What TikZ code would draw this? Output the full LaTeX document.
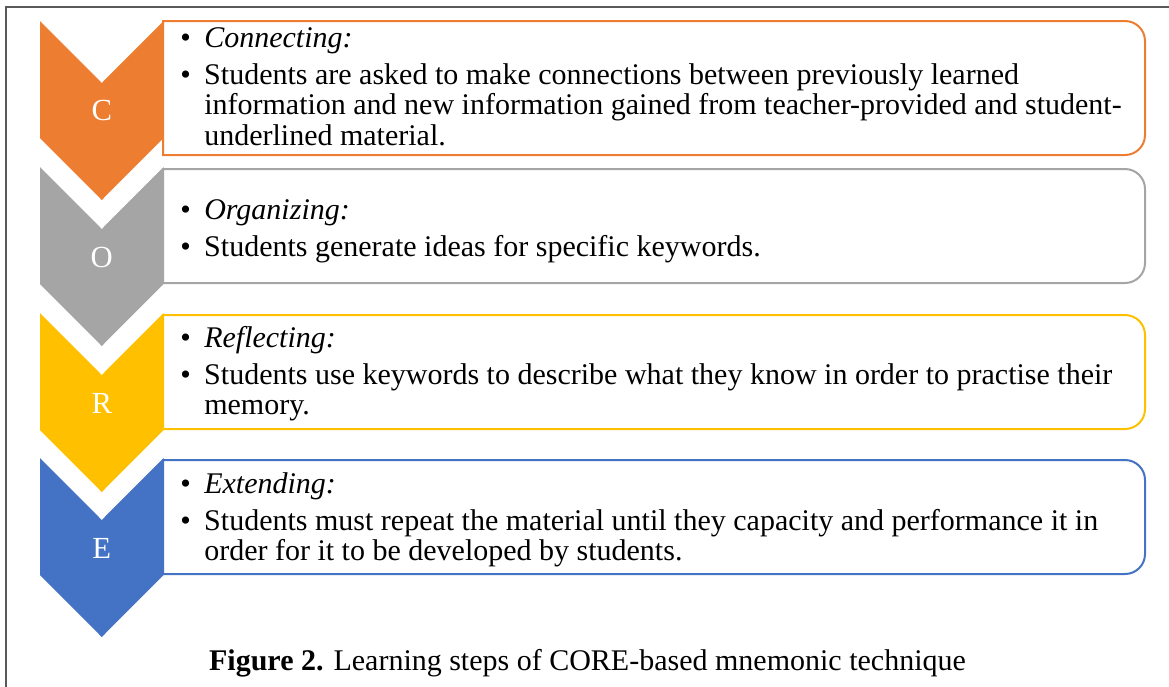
\documentclass[tikz,border=0pt]{standalone}
\usepackage{fontspec}
\setmainfont{Liberation Serif}
\usepackage{xcolor}
\usepackage{tikz}
\usetikzlibrary{positioning}

\definecolor{coreOrange}{RGB}{237,125,49}
\definecolor{coreGray}{RGB}{165,165,165}
\definecolor{coreYellow}{RGB}{255,192,0}
\definecolor{coreBlue}{RGB}{68,114,196}
\definecolor{frameGray}{RGB}{89,89,89}

\newcommand{\bitem}[1]{\par\addvspace{4.5pt}\noindent\makebox[18pt][l]{\textbullet}\parbox[t]{700pt}{#1}}
\newcommand{\cardtext}[1]{\begin{minipage}[t]{720pt}#1\end{minipage}}

\begin{document}
\begin{tikzpicture}[x=0.75pt,y=0.75pt,yscale=-1,xscale=1,
  card/.style={line width=1.5pt, fill=white},
  letter/.style={text=white, inner sep=0pt, font=\fontsize{23}{24}\selectfont},
  itemtext/.style={anchor=base west, inner sep=0pt, font=\fontsize{22.5}{23}\selectfont}]
  \useasboundingbox (0,0) rectangle (1169,686);

  %Shape: Frame
  \draw [color=frameGray, line width=1.5pt] (6,690) -- (6,7) -- (1172,7) ;

  %Shape: Chevron
  \draw [draw=none, fill=coreOrange] (40,21) -- (101.75,83) -- (163.5,21) -- (163.5,138) -- (101.75,200) -- (40,138) -- cycle ;
  %Shape: Chevron
  \draw [draw=none, fill=coreGray] (40,167) -- (101.75,229) -- (163.5,167) -- (163.5,284) -- (101.75,346) -- (40,284) -- cycle ;
  %Shape: Chevron
  \draw [draw=none, fill=coreYellow] (40,313) -- (101.75,375) -- (163.5,313) -- (163.5,430) -- (101.75,492) -- (40,430) -- cycle ;
  %Shape: Chevron
  \draw [draw=none, fill=coreBlue] (40,458) -- (101.75,520) -- (163.5,458) -- (163.5,575) -- (101.75,637) -- (40,575) -- cycle ;

  %Shape: Round Same Side Corner Rectangle
  \draw [card, draw=coreOrange] (163,21) -- (1125,21) .. controls (1136.05,21) and (1145,29.95) .. (1145,41) -- (1145,135) .. controls (1145,146.05) and (1136.05,155) .. (1125,155) -- (163,155) -- cycle ;
  %Shape: Round Same Side Corner Rectangle
  \draw [card, draw=coreGray] (163,169) -- (1125,169) .. controls (1136.05,169) and (1145,177.95) .. (1145,189) -- (1145,263) .. controls (1145,274.05) and (1136.05,283) .. (1125,283) -- (163,283) -- cycle ;
  %Shape: Round Same Side Corner Rectangle
  \draw [card, draw=coreYellow] (163,315) -- (1125,315) .. controls (1136.05,315) and (1145,323.95) .. (1145,335) -- (1145,409) .. controls (1145,420.05) and (1136.05,429) .. (1125,429) -- (163,429) -- cycle ;
  %Shape: Round Same Side Corner Rectangle
  \draw [card, draw=coreBlue] (163,460) -- (1125,460) .. controls (1136.05,460) and (1145,468.95) .. (1145,480) -- (1145,554) .. controls (1145,565.05) and (1136.05,574) .. (1125,574) -- (163,574) -- cycle ;

  % Text Node
  \draw (101.75,110) node (letC) [letter] {C};
  % Text Node
  \draw (101.75,257) node (letO) [letter] {O};
  % Text Node
  \draw (101.75,403) node (letR) [letter] {R};
  % Text Node
  \draw (101.75,548) node (letE) [letter] {E};

  % Text Node
  \draw (180,47.5) node (txtC) [itemtext] {\cardtext{\bitem{\textit{Connecting:}}\bitem{Students are asked to make connections between previously learned\\information and new information gained from teacher-provided and student-\\underlined material.}}};
  % Text Node
  \draw (180,219.5) node (txtO) [itemtext] {\cardtext{\bitem{\textit{Organizing:}}\bitem{Students generate ideas for specific keywords.}}};
  % Text Node
  \draw (180,347.5) node (txtR) [itemtext] {\cardtext{\bitem{\textit{Reflecting:}}\bitem{Students use keywords to describe what they know in order to practise their\\memory.}}};
  % Text Node
  \draw (180,493.5) node (txtE) [itemtext] {\cardtext{\bitem{\textit{Extending:}}\bitem{Students must repeat the material until they capacity and performance it in\\order for it to be developed by students.}}};

  % Text Node
  \draw (587.5,670) node (caption) [anchor=base, inner sep=0pt, font=\fontsize{22.5}{24}\selectfont] {\textbf{Figure 2.} Learning steps of CORE-based mnemonic technique};

\end{tikzpicture}
\end{document}
